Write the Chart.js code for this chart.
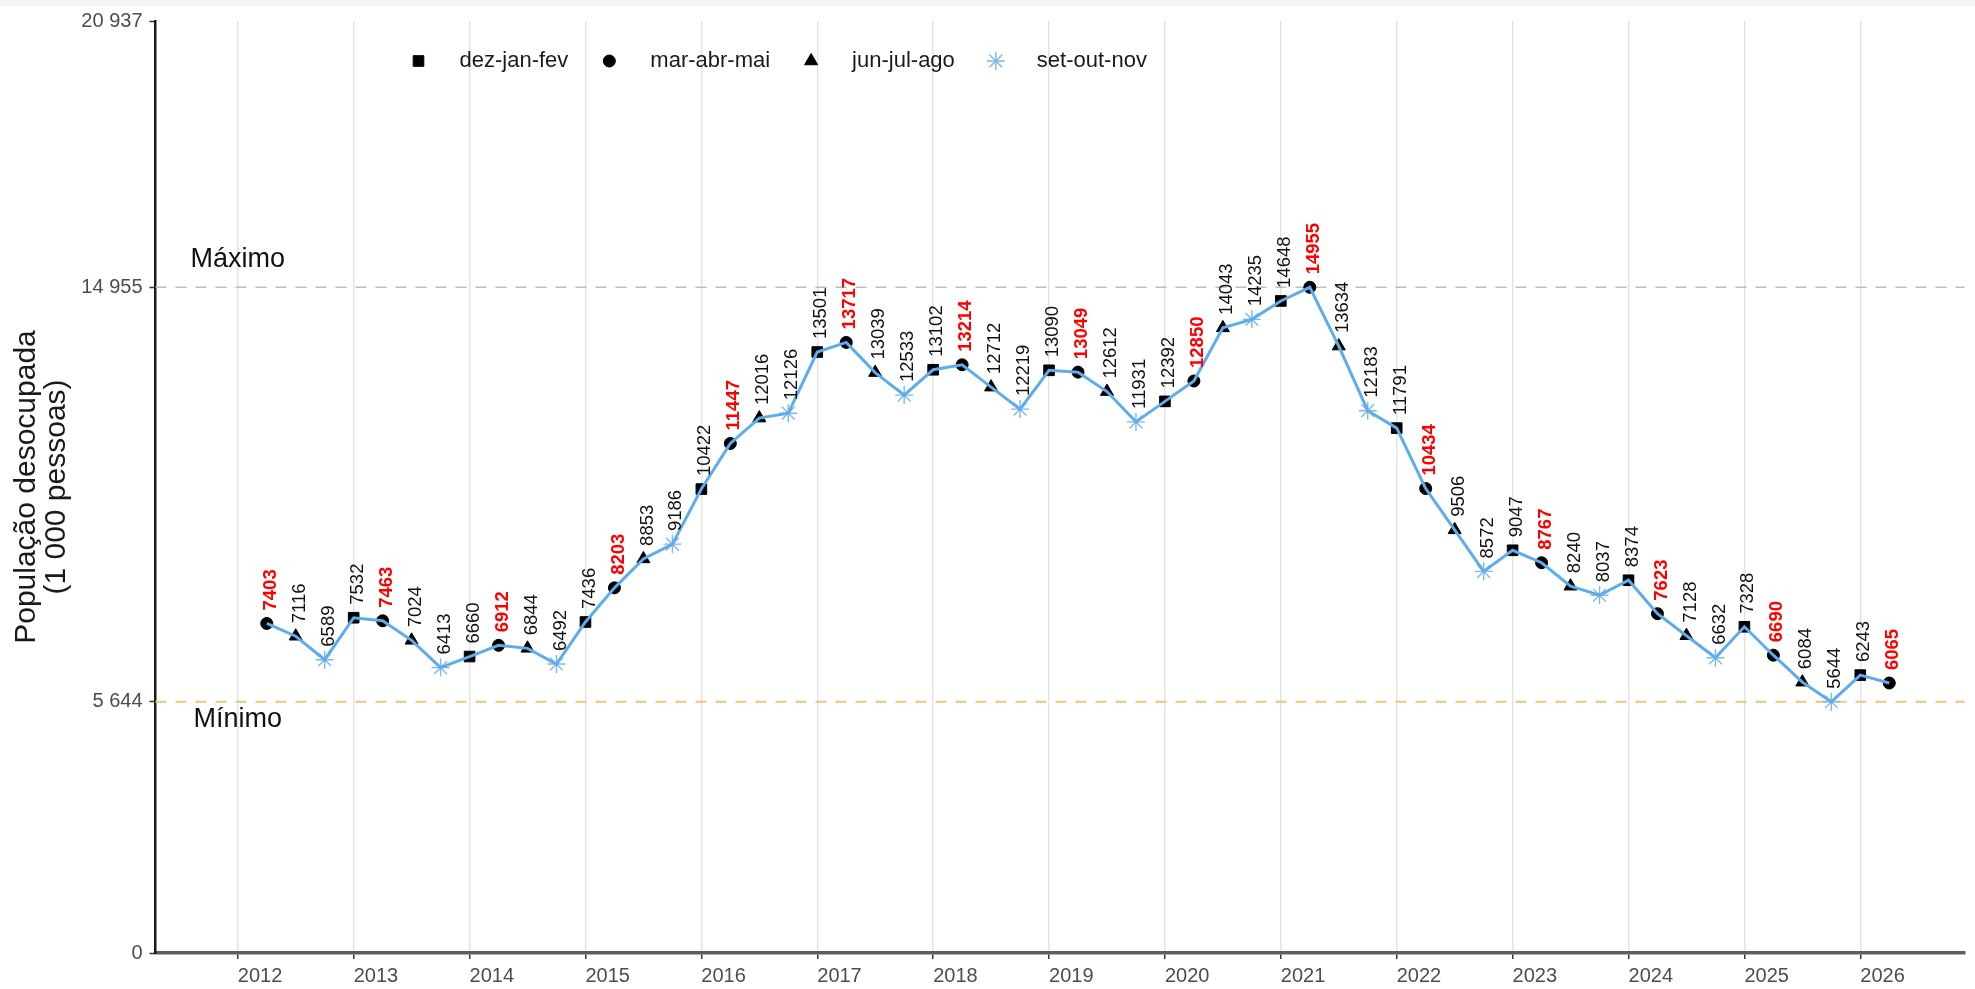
<!DOCTYPE html>
<html lang="pt-BR">
<head>
<meta charset="utf-8">
<title>População desocupada</title>
<script src="https://cdn.jsdelivr.net/npm/chart.js@4/dist/chart.umd.min.js"></script>
<style>
  html, body { margin: 0; padding: 0; background: #fff; }
  #chart-wrapper { width: 1975px; height: 989px; position: relative; }
</style>
</head>
<body>
<div id="chart-wrapper"><canvas></canvas></div>
<script>
// dados (1 000 pessoas), um valor por ano e trimestre móvel
const anos = [2012, 2013, 2014, 2015, 2016, 2017, 2018, 2019, 2020, 2021, 2022, 2023, 2024, 2025, 2026];
const trimestres = ["dez-jan-fev", "mar-abr-mai", "jun-jul-ago", "set-out-nov"];
const mesCentral = [1, 4, 7, 10];

const dezJanFev = [null, 7532, 6660, 7436, 10422, 13501, 13102, 13090, 12392, 14648, 11791, 9047, 8374, 7328, 6243];
const marAbrMai = [7403, 7463, 6912, 8203, 11447, 13717, 13214, 13049, 12850, 14955, 10434, 8767, 7623, 6690, 6065];
const junJulAgo = [7116, 7024, 6844, 8853, 12016, 13039, 12712, 12612, 14043, 13634, 9506, 8240, 7128, 6084, null];
const setOutNov = [6589, 6413, 6492, 9186, 12126, 12533, 12219, 11931, 14235, 12183, 8572, 8037, 6632, 5644, null];

const yTickValues = [0, 5644, 14955, 20937];
const yTickLabels = ["0", "5 644", "14 955", "20 937"];
const xTickLabels = anos.map(String);

const series = [dezJanFev, marAbrMai, junJulAgo, setOutNov];
const fonte = "'Liberation Sans', Arial, sans-serif";
const azul = "#5cacee";

const estilos = [
  { pointStyle: "rect", radius: 7.5, fill: "#000", stroke: "#000", border: 1, label: "#111", bold: false },
  { pointStyle: "circle", radius: 6, fill: "#000", stroke: "#000", border: 1, label: "#ff0000", bold: true },
  { pointStyle: "triangle", radius: 7.5, fill: "#000", stroke: "#000", border: 1, label: "#111", bold: false },
  { pointStyle: "star", radius: 9, fill: "#7db8e6", stroke: "#7db8e6", border: 1.4, label: "#111", bold: false },
];

const posicao = (ano, t) => ano + (mesCentral[t] - 1) / 12;

// série cronológica para a linha
const linha = [];
anos.forEach((ano, i) => {
  series.forEach((s, t) => {
    if (s[i] != null) linha.push({ x: posicao(ano, t), y: s[i] });
  });
});

const todos = linha.map((p) => p.y);
const maximo = Math.max(...todos);
const minimo = Math.min(...todos);

const marcadores = series.map((s, t) => ({
  type: "scatter",
  label: trimestres[t],
  data: anos.map((ano, i) => (s[i] == null ? null : { x: posicao(ano, t), y: s[i] })).filter(Boolean),
  pointStyle: estilos[t].pointStyle,
  pointRadius: estilos[t].radius,
  backgroundColor: estilos[t].fill,
  borderColor: estilos[t].stroke,
  borderWidth: estilos[t].border,
  order: 1,
  trimestre: t,
}));

const fundoPlugin = {
  id: "fundo",
  beforeDraw(chart) {
    const ctx = chart.ctx;
    ctx.save();
    ctx.fillStyle = "#fff";
    ctx.fillRect(0, 0, chart.width, chart.height);
    ctx.fillStyle = "#f5f5f5";
    ctx.fillRect(0, 0, chart.width, 6);
    ctx.restore();
  },
};

const referenciasPlugin = {
  id: "referencias",
  beforeDatasetsDraw(chart) {
    const { ctx, chartArea } = chart;
    const y = chart.scales.y;
    const yMax = y.getPixelForValue(maximo);
    const yMin = y.getPixelForValue(minimo);
    ctx.save();
    ctx.setLineDash([11, 9]);
    ctx.lineWidth = 1.5;
    ctx.strokeStyle = "#bdbdbd";
    ctx.beginPath();
    ctx.moveTo(chartArea.left, yMax);
    ctx.lineTo(chartArea.right, yMax);
    ctx.stroke();
    ctx.lineWidth = 2;
    ctx.strokeStyle = "#f2c482";
    ctx.beginPath();
    ctx.moveTo(chartArea.left, yMin);
    ctx.lineTo(chartArea.right, yMin);
    ctx.stroke();
    ctx.setLineDash([]);
    ctx.fillStyle = "#111";
    ctx.font = `27px ${fonte}`;
    ctx.textAlign = "left";
    ctx.textBaseline = "alphabetic";
    ctx.fillText("Máximo", chartArea.left + 35, yMax - 20);
    ctx.fillText("Mínimo", chartArea.left + 38, yMin + 25);
    ctx.restore();
  },
};

const rotulosPlugin = {
  id: "rotulos",
  afterDatasetsDraw(chart) {
    const ctx = chart.ctx;
    chart.data.datasets.forEach((ds, di) => {
      if (ds.trimestre === undefined) return;
      const est = estilos[ds.trimestre];
      const meta = chart.getDatasetMeta(di);
      meta.data.forEach((pt, i) => {
        ctx.save();
        ctx.translate(pt.x + 4, pt.y - 13);
        ctx.rotate(-Math.PI / 2);
        ctx.font = `${est.bold ? "bold " : ""}18.5px ${fonte}`;
        ctx.fillStyle = est.label;
        ctx.textAlign = "left";
        ctx.textBaseline = "middle";
        ctx.fillText(String(ds.data[i].y), 0, 0);
        ctx.restore();
      });
    });
  },
};

const legendaPlugin = {
  id: "legenda",
  afterDraw(chart) {
    const { ctx, chartArea } = chart;
    let x = chartArea.left + 263;
    const y = 61;
    ctx.save();
    ctx.font = `22px ${fonte}`;
    ctx.textAlign = "left";
    ctx.textBaseline = "middle";
    trimestres.forEach((nome, t) => {
      const est = estilos[t];
      ctx.fillStyle = est.fill;
      ctx.strokeStyle = est.stroke;
      ctx.lineWidth = est.border;
      Chart.helpers.drawPoint(ctx, { pointStyle: est.pointStyle, radius: est.radius, borderWidth: est.border, rotation: 0 }, x, y);
      ctx.fillStyle = "#1a1a1a";
      ctx.fillText(nome, x + 41, y);
      x += 41 + ctx.measureText(nome).width + 41;
    });
    ctx.restore();
  },
};

const canvas = document.querySelector("#chart-wrapper canvas");
new Chart(canvas.getContext("2d"), {
  data: {
    datasets: [
      {
        type: "line",
        label: "linha",
        data: linha,
        borderColor: azul,
        borderWidth: 3,
        pointRadius: 0,
        tension: 0,
        fill: false,
        order: 0,
      },
      ...marcadores,
    ],
  },
  options: {
    responsive: true,
    maintainAspectRatio: false,
    animation: false,
    layout: { padding: { top: 21, right: 0, bottom: 0, left: 0 } },
    plugins: { legend: { display: false }, tooltip: { enabled: false } },
    scales: {
      x: {
        type: "linear",
        min: 2011.29,
        max: 2026.9,
        afterBuildTicks: (s) => { s.ticks = anos.map((v) => ({ value: v })); },
        afterFit: (s) => { s.height = 36; },
        ticks: {
          align: "start",
          autoSkip: false,
          maxRotation: 0,
          padding: 5,
          color: "#4d4d4d",
          font: { family: fonte, size: 20 },
          callback: (v, i) => xTickLabels[i],
        },
        grid: { color: "#e4e4e4", lineWidth: 1.5, tickColor: "#333", tickLength: 6, tickWidth: 1.5 },
        border: { color: "#5e5e5e", width: 3.5 },
      },
      y: {
        type: "linear",
        min: 0,
        max: 20937,
        afterBuildTicks: (s) => { s.ticks = yTickValues.map((v) => ({ value: v })); },
        afterFit: (s) => { s.width = 155.5; },
        ticks: {
          padding: 7,
          color: "#4d4d4d",
          font: { family: fonte, size: 20 },
          callback: (v, i) => yTickLabels[i],
        },
        grid: { drawOnChartArea: false, tickColor: "#333", tickLength: 6, tickWidth: 1.5 },
        border: { color: "#1a1a1a", width: 2.5 },
        title: {
          display: true,
          text: ["População desocupada", "(1 000 pessoas)"],
          color: "#1a1a1a",
          font: { family: fonte, size: 30, lineHeight: 1.0 },
          padding: { top: 12, bottom: 0 },
        },
      },
    },
  },
  plugins: [fundoPlugin, referenciasPlugin, rotulosPlugin, legendaPlugin],
});
</script>
</body>
</html>
